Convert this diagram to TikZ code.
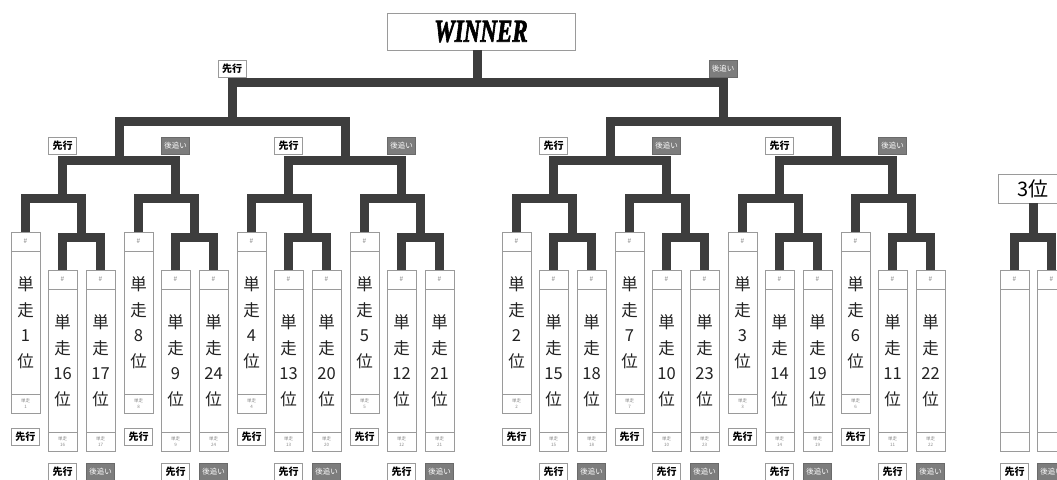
\documentclass[tikz,border=0pt]{standalone}
\usepackage{fontspec}
\usepackage{graphicx}
\newfontfamily\jp{Noto Sans CJK JP}
\newfontfamily\wfont[FakeBold=2.5]{Liberation Serif Bold Italic}
\definecolor{brc}{HTML}{3D3D3D}
\definecolor{bdc}{HTML}{9A9A9A}
\definecolor{atc}{HTML}{7D7D7D}
\definecolor{txc}{HTML}{222222}
\definecolor{smc}{HTML}{8A8A8A}
\tikzset{
 br/.style={draw=brc, line width=9pt, line join=miter, line cap=butt},
 cardbox/.style={draw=bdc, line width=0.8pt, fill=white, minimum width=29pt, inner sep=0pt, outer sep=0pt, anchor=north west},
 divline/.style={draw=bdc, line width=0.6pt},
 hashtxt/.style={font=\jp\fontsize{6.5}{7}\selectfont, text=smc, inner sep=0pt},
 bigtxt/.style={font=\jp\fontsize{16.5}{25.5}\selectfont, text=txc, align=center, inner sep=0pt},
 smalltxt/.style={font=\jp\fontsize{4.5}{6.5}\selectfont, text=smc, align=center, inner sep=0pt},
 senko/.style={draw=bdc, fill=white, line width=0.8pt, minimum width=28pt, minimum height=17pt, inner sep=0pt, font=\jp\bfseries\fontsize{10}{10}\selectfont},
 atooi/.style={draw=atc!85!black, fill=atc, line width=0.8pt, minimum width=28pt, minimum height=17pt, inner sep=0pt, text=white, font=\jp\fontsize{7.5}{8}\selectfont},
 titlebox/.style={draw=bdc, line width=0.8pt, fill=white, inner sep=0pt},
}
\newcommand\Card[5]{%
  \node[cardbox, minimum height=181pt] (#1) at (#2,#3) {};
  \draw[divline] ([yshift=-19pt]#1.north west) -- ([yshift=-19pt]#1.north east);
  \draw[divline] ([yshift=19pt]#1.south west) -- ([yshift=19pt]#1.south east);
  \node[hashtxt] (#1h) at ([yshift=-9.5pt]#1.north) {\#};
  \node[bigtxt] (#1t) at (#1.center) {#4};
  \node[smalltxt] (#1s) at ([yshift=9.5pt]#1.south) {#5};
}
\newcommand\Group[5]{%
  \Card{#1a}{#2}{232}{単\\走\\#3\\位}{単走\\#3}
  \Card{#1b}{#2+37}{270}{単\\走\\#4\\位}{単走\\#4}
  \Card{#1c}{#2+75}{270}{単\\走\\#5\\位}{単走\\#5}
  \coordinate (#1m5) at (#2+70.5,237);
  \coordinate (#1m4) at (#2+51.5,198);
  \draw[br] (#1b.north) -- (#1b.north |- #1m5) -- (#1c.north |- #1m5) -- (#1c.north);
  \draw[br] (#1a.north) -- (#1a.north |- #1m4) -- (#1m5 |- #1m4) -- (#1m5);
  \node[senko] (#1la) at (#2+14.5,437) {先行};
  \node[senko] (#1lb) at (#2+51.5,472) {先行};
  \node[atooi] (#1lc) at (#2+89.5,472) {後追い};
}
\newcommand\Semi[4]{%
  \coordinate (#1) at (#4,160.5);
  \draw[br] (#2m4) -- (#2m4 |- #1) -- (#3m4 |- #1) -- (#3m4);
  \node[senko] (#1ls) at ([yshift=15pt]#2m4 |- #1) {先行};
  \node[atooi] (#1la) at ([yshift=15pt]#3m4 |- #1) {後追い};
}
\begin{document}
\begin{tikzpicture}[x=1pt,y=-1pt]
\useasboundingbox (0,0) rectangle (1057,479);
\clip (0,0) rectangle (1057,479);
\fill[white] (0,0) rectangle (1057,479);
% winner
\node[titlebox, minimum width=188pt, minimum height=37pt] (winner) at (481,31.5)
  {\scalebox{0.72}[1]{\wfont\fontsize{32}{32}\selectfont WINNER}};
% groups
\Group{ga}{11}{1}{16}{17}
\Group{gb}{124}{8}{9}{24}
\Group{gc}{237}{4}{13}{20}
\Group{gd}{350}{5}{12}{21}
\Group{ge}{502}{2}{15}{18}
\Group{gf}{615}{7}{10}{23}
\Group{gg}{728}{3}{14}{19}
\Group{gh}{841}{6}{11}{22}
% level 3
\Semi{sa}{ga}{gb}{119}
\Semi{sb}{gc}{gd}{345}
\Semi{sc}{ge}{gf}{610}
\Semi{sd}{gg}{gh}{836}
% level 2
\coordinate (qa) at (232,121.5);
\coordinate (qb) at (723,121.5);
\draw[br] (sa) -- (sa |- qa) -- (sb |- qa) -- (sb);
\draw[br] (sc) -- (sc |- qb) -- (sd |- qb) -- (sd);
% final
\coordinate (fin) at (477.5,82.5);
\draw[br] (qa) -- (qa |- fin) -- (qb |- fin) -- (qb);
\draw[br] (fin) -- (fin |- winner.south);
\node[senko] (fls) at ([yshift=13.5pt]qa |- fin) {先行};
\node[atooi] (fla) at ([yshift=13.5pt]qb |- fin) {後追い};
% third place
\node[titlebox, minimum width=70pt, minimum height=29pt, font=\jp\fontsize{20}{20}\selectfont] (third) at (1033,188.5) {3位};
\Card{ta}{1000}{270}{}{}
\Card{tb}{1037}{270}{}{}
\coordinate (tm) at (1033,237);
\draw[br] (ta.north) -- (ta.north |- tm) -- (tb.north |- tm) -- (tb.north);
\draw[br] (tm) -- (tm |- third.south);
\node[senko] (tls) at (1014.5,472) {先行};
\node[atooi] (tla) at (1051.5,472) {後追い};
\end{tikzpicture}
\end{document}
